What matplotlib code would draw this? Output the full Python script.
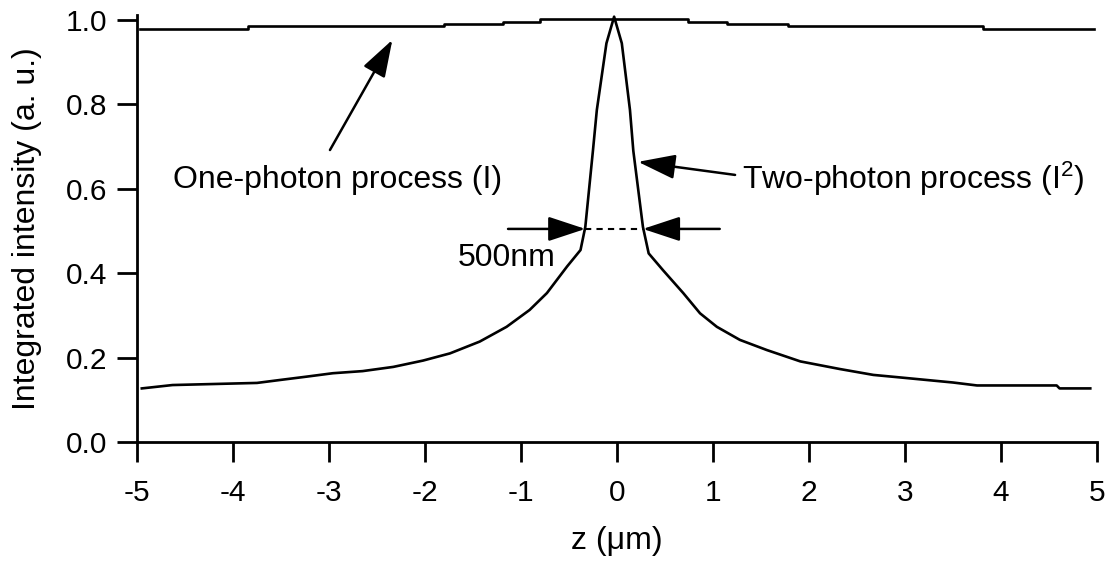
import matplotlib
matplotlib.use("Agg")
import matplotlib.pyplot as plt

plt.rcParams['font.family'] = ['Liberation Sans', 'DejaVu Sans']
plt.rcParams['mathtext.fontset'] = 'custom'
plt.rcParams['mathtext.rm'] = 'Liberation Sans'
plt.rcParams['mathtext.it'] = 'Liberation Sans:italic'

# One-photon process (step profile)
one_z = [-4.97, -3.84, -1.80, -1.19, -0.80, 0.74, 1.15, 1.78, 3.81, 4.97]
one_I = [0.978, 0.986, 0.990, 0.996, 1.002, 0.996, 0.990, 0.986, 0.978, 0.978]

# Two-photon process
two_z = [-4.95, -4.63, -3.75, -3.51, -3.23, -2.96, -2.65, -2.33, -2.02, -1.74,
         -1.43, -1.15, -0.91, -0.73, -0.52, -0.38, -0.33, -0.25, -0.21, -0.11,
         -0.03, 0.05, 0.135, 0.17, 0.27, 0.33, 0.48, 0.69, 0.865, 1.04,
         1.28, 1.56, 1.91, 2.32, 2.67, 2.95, 3.50, 3.75, 4.58, 4.61, 4.93]
two_I = [0.127, 0.135, 0.140, 0.147, 0.155, 0.163, 0.168, 0.178, 0.193, 0.210,
         0.238, 0.273, 0.313, 0.353, 0.416, 0.455, 0.510, 0.692, 0.787, 0.945,
         1.008, 0.945, 0.787, 0.690, 0.510, 0.447, 0.407, 0.353, 0.305, 0.273,
         0.242, 0.218, 0.191, 0.173, 0.159, 0.153, 0.141, 0.134, 0.134, 0.127, 0.127]

x_ticks = [-5, -4, -3, -2, -1, 0, 1, 2, 3, 4, 5]
y_ticks = [0.0, 0.2, 0.4, 0.6, 0.8, 1.0]
y_ticklabels = ["0.0", "0.2", "0.4", "0.6", "0.8", "1.0"]

fwhm_left = -0.33
fwhm_right = 0.27
fwhm_level = 0.505

W, H = 1110, 564
fig = plt.figure(figsize=(W / 100, H / 100), dpi=100)
ax = fig.add_axes([137 / W, (H - 442) / H, (1097 - 137) / W, (442 - 15) / H])

lw = 2.0
ax.step(one_z, one_I, where='post', color='black', lw=1.9)
ax.plot(two_z, two_I, color='black', lw=1.9)

ax.set_xlim(-5, 5)
ax.set_ylim(0, 1.012)
ax.set_xticks(x_ticks)
ax.set_xticklabels([str(t) for t in x_ticks])
ax.set_yticks(y_ticks)
ax.set_yticklabels(y_ticklabels)
for s in ['top', 'right']:
    ax.spines[s].set_visible(False)
for s in ['left', 'bottom']:
    ax.spines[s].set_linewidth(lw)
ax.tick_params(axis='both', direction='out', length=14.5, width=lw, labelsize=21.5)
ax.tick_params(axis='x', pad=12)
ax.tick_params(axis='y', pad=7)

ax.set_xlabel("z (\u03bcm)", fontsize=23, labelpad=14)
ax.set_ylabel("Integrated intensity (a. u.)", fontsize=23, labelpad=17)

arrow = dict(arrowstyle='-|>,head_length=1.15,head_width=0.38', mutation_scale=20,
             color='black', lw=1.8, shrinkA=0, shrinkB=0)

# One-photon annotation
ax.annotate("", xy=(-2.34, 0.953), xytext=(-2.99, 0.692), arrowprops=arrow)
ax.text(-4.63, 0.620, "One-photon process (I)", fontsize=23, ha='left', va='center')

# Two-photon annotation
ax.annotate("", xy=(0.22, 0.664), xytext=(1.23, 0.633), arrowprops=arrow)
ax.text(1.30, 0.624, "Two-photon process ($\\mathrm{I}^{2}$)", fontsize=23, ha='left', va='center')

# FWHM markers
ax.annotate("", xy=(fwhm_left, fwhm_level), xytext=(-1.135, fwhm_level), arrowprops=arrow)
ax.annotate("", xy=(fwhm_right, fwhm_level), xytext=(1.07, fwhm_level), arrowprops=arrow)
ax.plot([fwhm_left, fwhm_right], [fwhm_level, fwhm_level], color='black', lw=1.5,
        linestyle=(0, (3, 2.5)))
ax.text(-1.66, 0.436, "500nm", fontsize=23, ha='left', va='center')

fig.savefig("out.png", dpi=100)
